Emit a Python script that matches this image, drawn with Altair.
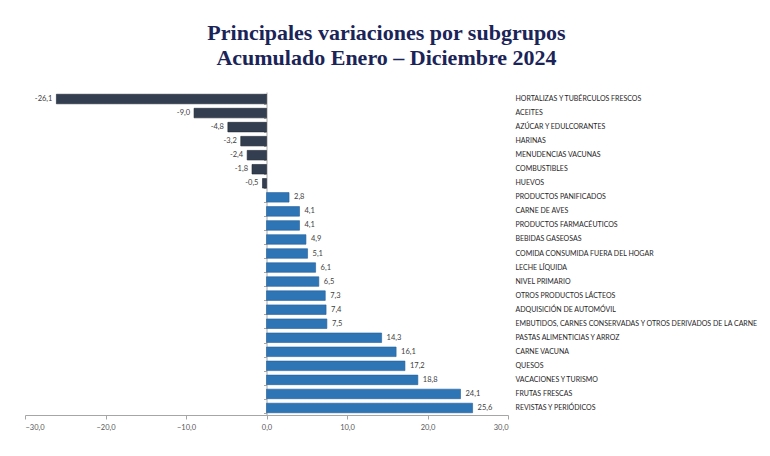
import altair as alt
import pandas as pd

categories = [
    "HORTALIZAS Y TUBÉRCULOS FRESCOS", "ACEITES", "AZÚCAR Y EDULCORANTES", "HARINAS",
    "MENUDENCIAS VACUNAS", "COMBUSTIBLES", "HUEVOS", "PRODUCTOS PANIFICADOS",
    "CARNE DE AVES", "PRODUCTOS FARMACÉUTICOS", "BEBIDAS GASEOSAS",
    "COMIDA CONSUMIDA FUERA DEL HOGAR", "LECHE LÍQUIDA", "NIVEL PRIMARIO",
    "OTROS PRODUCTOS LÁCTEOS", "ADQUISICIÓN DE AUTOMÓVIL",
    "EMBUTIDOS, CARNES CONSERVADAS Y OTROS DERIVADOS DE LA CARNE",
    "PASTAS ALIMENTICIAS Y ARROZ", "CARNE VACUNA", "QUESOS",
    "VACACIONES Y TURISMO", "FRUTAS FRESCAS", "REVISTAS Y PERIÓDICOS",
]
values = [-26.1, -9.0, -4.8, -3.2, -2.4, -1.8, -0.5, 2.8, 4.1, 4.1, 4.9, 5.1, 6.1,
          6.5, 7.3, 7.4, 7.5, 14.3, 16.1, 17.2, 18.8, 24.1, 25.6]
x_ticks = [-30, -20, -10, 0, 10, 20, 30]

df = pd.DataFrame({"cat": categories, "val": values})
df["label"] = [f"{v:.1f}".replace(".", ",") for v in values]

W, H = 483, 323
FONT = "Lato"

x_enc = alt.X("val:Q", scale=alt.Scale(domain=[-30, 30], nice=False),
              axis=alt.Axis(values=x_ticks, title=None, grid=False,
                            labelExpr="replace(format(datum.value, '.1f'), '.', ',')",
                            labelFont=FONT, labelFontSize=7.5, labelColor="#595959",
                            domainColor="#a6a6a6", tickColor="#a6a6a6", tickSize=4,
                            labelPadding=4))
y_scale = alt.Scale(paddingInner=0.32, paddingOuter=0.16)

base = alt.Chart(df)

bars = base.mark_bar(strokeWidth=0.6).encode(
    x=x_enc,
    y=alt.Y("cat:N", sort=None, scale=y_scale,
            axis=alt.Axis(orient="right", title=None, ticks=False, domain=False,
                          labelFont=FONT, labelFontSize=7, labelColor="#262626",
                          labelPadding=7, labelLimit=400)),
    color=alt.condition("datum.val < 0", alt.value("#333f50"), alt.value("#2e75b6")),
    stroke=alt.condition("datum.val < 0", alt.value("#1e2633"), alt.value("#24609a")),
)

pos_text = base.transform_filter("datum.val >= 0").mark_text(
    align="left", dx=5, font=FONT, fontSize=7.5, color="#404040"
).encode(
    x=alt.X("val:Q"),
    y=alt.Y("cat:N", sort=None, scale=y_scale,
            axis=alt.Axis(orient="left", title=None, labels=False, offset=-W / 2,
                          domainColor="#a6a6a6", tickColor="#a6a6a6", tickSize=3,
                          tickBand="extent")),
    text="label:N",
)

neg_text = base.transform_filter("datum.val < 0").mark_text(
    align="right", dx=-4, font=FONT, fontSize=7.5, color="#404040"
).encode(
    x=alt.X("val:Q"),
    y=alt.Y("cat:N", sort=None, scale=y_scale, axis=None),
    text="label:N",
)

chart = alt.layer(bars, pos_text, neg_text).resolve_axis(y="independent").properties(
    width=W, height=H,
    background="white",
    autosize=alt.AutoSizeParams(type="none"),
    padding={"left": 17, "top": 84, "right": 254, "bottom": 33},
    title=alt.TitleParams(
        ["Principales variaciones por subgrupos", "Acumulado Enero – Diciembre 2024"],
        font="Liberation Serif", fontSize=22, fontWeight="bold", color="#1b2458",
        anchor="middle", dx=120, offset=22, lineHeight=25,
    ),
).configure_view(strokeWidth=0)

chart.save("out.html", embed_options={"renderer": "svg", "actions": False})
